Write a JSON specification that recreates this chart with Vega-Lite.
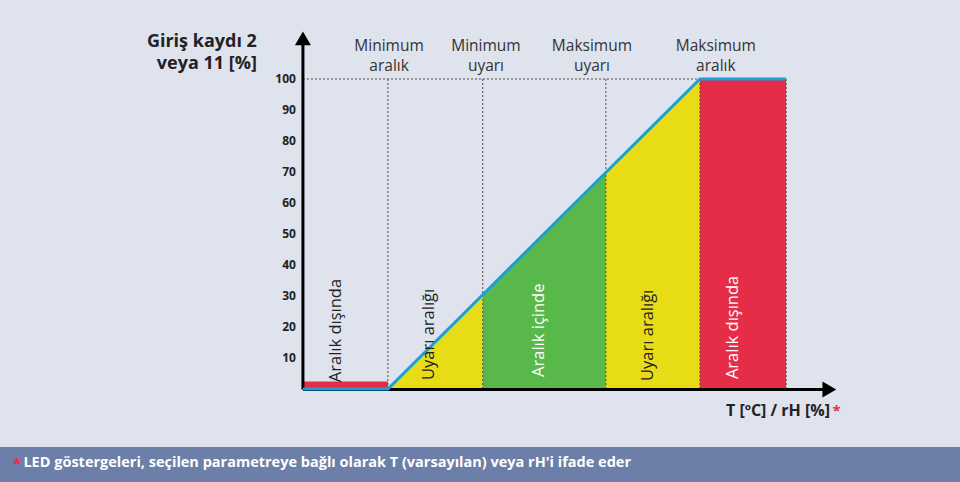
{
  "$schema": "https://vega.github.io/schema/vega-lite/v6.json",
  "width": 960,
  "height": 482,
  "autosize": {"type": "fit", "contains": "padding"},
  "padding": 0,
  "background": "#dfe3ee",
  "view": {"stroke": null},
  "config": {"text": {"font": "Open Sans"}},
  "encoding": {
    "x": {"field": "x", "type": "quantitative", "axis": null, "scale": {"domain": [-76.3, 165.5], "nice": false, "zero": false}},
    "y": {"field": "y", "type": "quantitative", "axis": null, "stack": null, "scale": {"domain": [-30, 125.48], "nice": false, "zero": false}}
  },
  "layer": [
    {
      "data": {"values": [{"x": -76.3, "x2": 165.5, "y": -18.7, "y2": -30}]},
      "mark": {"type": "rect", "color": "#6b7fa8"},
      "encoding": {"x2": {"field": "x2"}, "y2": {"field": "y2"}}
    },
    {
      "data": {"values": [
        {"zone": "outL", "x": 0, "y": 2.4, "y0": 0},
        {"zone": "outL", "x": 21.4, "y": 2.4, "y0": 0},
        {"zone": "warnL", "x": 21.4, "y": 0, "y0": 0},
        {"zone": "warnL", "x": 45.3, "y": 30.3, "y0": 0},
        {"zone": "in", "x": 45.3, "y": 30.3, "y0": 0},
        {"zone": "in", "x": 76.3, "y": 69.8, "y0": 0},
        {"zone": "warnR", "x": 76.3, "y": 69.8, "y0": 0},
        {"zone": "warnR", "x": 100, "y": 100, "y0": 0},
        {"zone": "outR", "x": 100, "y": 100, "y0": 0},
        {"zone": "outR", "x": 121.7, "y": 100, "y0": 0}
      ]},
      "mark": {"type": "area", "opacity": 1, "interpolate": "linear"},
      "encoding": {
        "y2": {"field": "y0"},
        "color": {"field": "zone", "type": "nominal", "legend": null,
          "scale": {"domain": ["outL", "warnL", "in", "warnR", "outR"], "range": ["#e62d47", "#e8dc17", "#58b94a", "#e8dc17", "#e62d47"]}}
      }
    },
    {
      "data": {"values": [
        {"x": 21.4, "y": 0, "x2": 21.4, "y2": 100},
        {"x": 45.3, "y": 0, "x2": 45.3, "y2": 100},
        {"x": 76.3, "y": 0, "x2": 76.3, "y2": 100},
        {"x": 100, "y": 0, "x2": 100, "y2": 100},
        {"x": 121.7, "y": 0, "x2": 121.7, "y2": 100},
        {"x": 0, "y": 100, "x2": 100, "y2": 100}
      ]},
      "mark": {"type": "rule", "color": "#4d4a3a", "strokeWidth": 1, "strokeDash": [2, 2]},
      "encoding": {"x2": {"field": "x2"}, "y2": {"field": "y2"}}
    },
    {
      "data": {"values": [
        {"x": 0, "y": -0.2, "x2": 0, "y2": 112},
        {"x": 0, "y": -0.2, "x2": 131.5, "y2": -0.2}
      ]},
      "mark": {"type": "rule", "color": "#000000", "strokeWidth": 3},
      "encoding": {"x2": {"field": "x2"}, "y2": {"field": "y2"}}
    },
    {
      "data": {"values": [
        {"x": 0, "y": 0, "o": 1},
        {"x": 21.4, "y": 0, "o": 2},
        {"x": 100, "y": 100, "o": 3},
        {"x": 121.7, "y": 100, "o": 4}
      ]},
      "mark": {"type": "line", "color": "#1aa0d8", "strokeWidth": 3},
      "encoding": {"order": {"field": "o", "type": "quantitative"}}
    },
    {
      "data": {"values": [{"x": 0, "y": 113.1}]},
      "mark": {"type": "point", "shape": "triangle-up", "size": 256, "filled": true, "color": "#000000", "opacity": 1}
    },
    {
      "data": {"values": [{"x": 132.6, "y": -0.2}]},
      "mark": {"type": "point", "shape": "triangle-right", "size": 256, "filled": true, "color": "#000000", "opacity": 1}
    },
    {
      "data": {"values": [
        {"x": -1.76, "y": 10, "t": "10"}, {"x": -1.76, "y": 20, "t": "20"}, {"x": -1.76, "y": 30, "t": "30"},
        {"x": -1.76, "y": 40, "t": "40"}, {"x": -1.76, "y": 50, "t": "50"}, {"x": -1.76, "y": 60, "t": "60"},
        {"x": -1.76, "y": 70, "t": "70"}, {"x": -1.76, "y": 80, "t": "80"}, {"x": -1.76, "y": 90, "t": "90"},
        {"x": -1.76, "y": 100, "t": "100"}
      ]},
      "mark": {"type": "text", "align": "right", "baseline": "middle", "fontSize": 12, "fontWeight": "bold", "color": "#222222"},
      "encoding": {"text": {"field": "t"}}
    },
    {
      "data": {"values": [
        {"x": -11.6, "y": 112.0, "t": "Giriş kaydı 2|veya 11 [%]"}
      ]},
      "mark": {"type": "text", "align": "right", "baseline": "middle", "lineBreak": "|", "lineHeight": 22, "fontSize": 18, "fontWeight": "bold", "color": "#222222"},
      "encoding": {"text": {"field": "t"}}
    },
    {
      "data": {"values": [
        {"x": 21.7, "y": 109.0, "t": "Minimum|aralık"},
        {"x": 46.1, "y": 109.0, "t": "Minimum|uyarı"},
        {"x": 72.8, "y": 109.0, "t": "Maksimum|uyarı"},
        {"x": 104.0, "y": 109.0, "t": "Maksimum|aralık"}
      ]},
      "mark": {"type": "text", "align": "center", "baseline": "alphabetic", "lineBreak": "|", "lineHeight": 20, "fontSize": 15.5, "color": "#333333"},
      "encoding": {"text": {"field": "t"}}
    },
    {
      "data": {"values": [
        {"x": 8.3, "y": 2.2, "t": "Aralık dışında"},
        {"x": 31.7, "y": 2.9, "t": "Uyarı aralığı"},
        {"x": 86.9, "y": 2.6, "t": "Uyarı aralığı"}
      ]},
      "mark": {"type": "text", "align": "left", "baseline": "middle", "angle": 270, "fontSize": 16.5, "color": "#222222"},
      "encoding": {"text": {"field": "t"}}
    },
    {
      "data": {"values": [
        {"x": 59.4, "y": 3.9, "t": "Aralık içinde"},
        {"x": 108.3, "y": 3.2, "t": "Aralık dışında"}
      ]},
      "mark": {"type": "text", "align": "left", "baseline": "middle", "angle": 270, "fontSize": 16.5, "color": "#ffffff"},
      "encoding": {"text": {"field": "t"}}
    },
    {
      "data": {"values": [{"x": 132.75, "y": -7.1, "t": "T [ºC] / rH [%]"}]},
      "mark": {"type": "text", "align": "right", "baseline": "middle", "fontSize": 16, "fontWeight": "bold", "color": "#222222"},
      "encoding": {"text": {"field": "t"}}
    },
    {
      "data": {"values": [
        {"x": 133.4, "y": -7.0, "t": "*"},
        {"x": -73.0, "y": -24.3, "t": "*"}
      ]},
      "mark": {"type": "text", "align": "left", "baseline": "middle", "fontSize": 15, "fontWeight": "bold", "color": "#e62d47"},
      "encoding": {"text": {"field": "t"}}
    },
    {
      "data": {"values": [{"x": -70.4, "y": -23.9, "t": "LED göstergeleri, seçilen parametreye bağlı olarak T (varsayılan) veya rH'i ifade eder"}]},
      "mark": {"type": "text", "align": "left", "baseline": "middle", "fontSize": 14.5, "fontWeight": "bold", "color": "#ffffff"},
      "encoding": {"text": {"field": "t"}}
    }
  ]
}
